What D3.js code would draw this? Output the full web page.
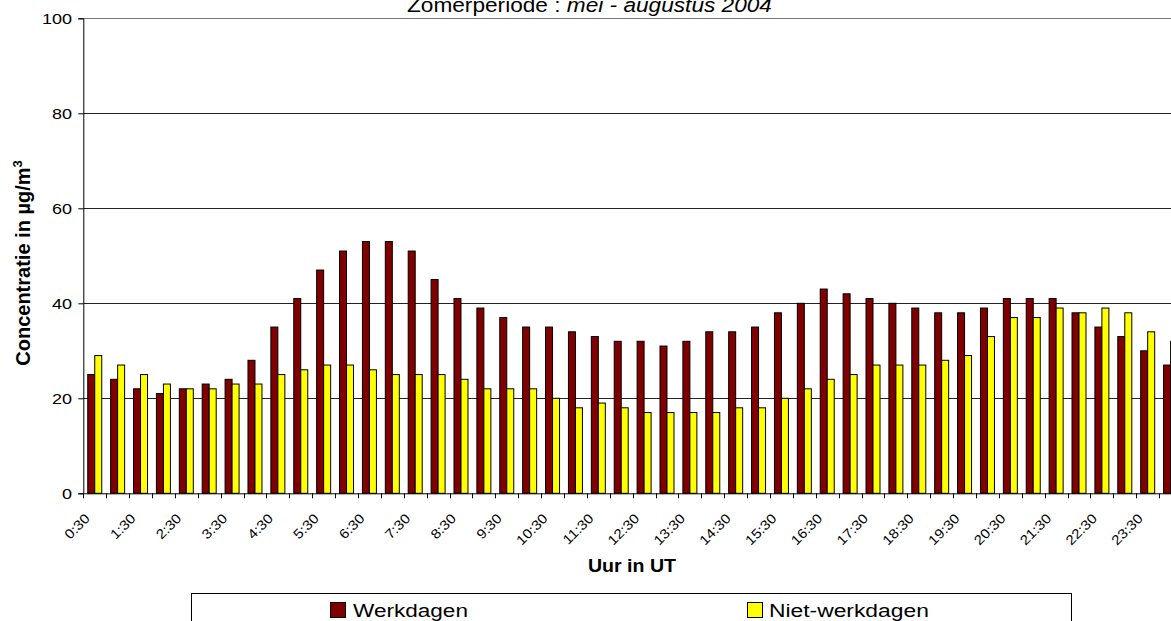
<!DOCTYPE html>
<html><head><meta charset="utf-8">
<script src="https://cdn.jsdelivr.net/npm/d3@7"></script>
<style>
body{margin:0;background:#fff;overflow:hidden}
svg{display:block;font-family:"Liberation Sans",Arial,sans-serif}
</style>
</head><body>
<svg id="c" width="1171" height="621"></svg>
<script>
const categories = ["0:30","1:00","1:30","2:00","2:30","3:00","3:30","4:00","4:30","5:00","5:30","6:00",
  "6:30","7:00","7:30","8:00","8:30","9:00","9:30","10:00","10:30","11:00","11:30","12:00",
  "12:30","13:00","13:30","14:00","14:30","15:00","15:30","16:00","16:30","17:00","17:30","18:00",
  "18:30","19:00","19:30","20:00","20:30","21:00","21:30","22:00","22:30","23:00","23:30","24:00"];
const tickLabels = ["0:30","1:30","2:30","3:30","4:30","5:30","6:30","7:30","8:30","9:30","10:30","11:30",
  "12:30","13:30","14:30","15:30","16:30","17:30","18:30","19:30","20:30","21:30","22:30","23:30"];
const werkdagen = [25,24,22,21,22,23,24,28,35,41,47,51,53,53,51,45,41,39,37,35,35,34,33,32,
  32,31,32,34,34,35,38,40,43,42,41,40,39,38,38,39,41,41,41,38,35,33,30,27];
const nietWerkdagen = [29,27,25,23,22,22,23,23,25,26,27,27,26,25,25,25,24,22,22,22,20,18,19,18,
  17,17,17,17,18,18,20,22,24,25,27,27,27,28,29,33,37,37,39,38,39,38,34,32];
const seriesNames = ["Werkdagen","Niet-werkdagen"];
const seriesColors = ["#800000","#FFFF00"];
const yTicks = [0,20,40,60,80,100];
const titleMain = "Zomerperiode : ";
const titleItalic = "mei - augustus 2004";
const yTitle = "Concentratie in µg/m";
const xTitle = "Uur in UT";

const svg = d3.select("#c");
svg.append("rect").attr("width",1171).attr("height",621).attr("fill","#fff");

const L = 83.3, R = 83.3 + 48*22.89, T = 18.3, B = 493.3;
const x = d3.scaleBand().domain(categories).range([L,R]).padding(0);
const x1 = d3.scaleBand().domain(seriesNames).range([0,x.bandwidth()]).paddingInner(0).paddingOuter(0.635);
const y = d3.scaleLinear().domain([0,100]).range([B,T]);

// gridlines
svg.append("g").selectAll("line").data(yTicks.filter(t=>t>0)).join("line")
  .attr("x1",L).attr("x2",1171)
  .attr("y1",d=>Math.round(y(d))+0.5).attr("y2",d=>Math.round(y(d))+0.5)
  .attr("stroke",d=>d===100?"#777":"#222").attr("stroke-width",1);

// bars
const series = [werkdagen, nietWerkdagen];
series.forEach((vals,si)=>{
  svg.append("g").selectAll("rect").data(vals).join("rect")
    .attr("x",(d,i)=>x(categories[i])+x1(seriesNames[si]))
    .attr("y",d=>y(d))
    .attr("width",x1.bandwidth())
    .attr("height",d=>B-y(d))
    .attr("fill",seriesColors[si])
    .attr("stroke","#000").attr("stroke-width",1);
});

// y axis
const ya = svg.append("g").attr("transform",`translate(${L},0)`)
  .call(d3.axisLeft(y).tickValues(yTicks).tickSize(5).tickFormat(""));
ya.select(".domain").attr("stroke","#000");
ya.selectAll(".tick line").attr("stroke","#000");
svg.append("g").selectAll("text").data(yTicks).join("text")
  .attr("transform",d=>`translate(72,${y(d)+5.5}) scale(1.2,1)`)
  .attr("text-anchor","end").attr("font-size",15).attr("fill","#000")
  .text(d=>d);

// x axis
const xa = svg.append("g").attr("transform",`translate(0,${B})`)
  .call(d3.axisBottom(x).tickSize(0).tickFormat(""));
xa.select(".domain").attr("stroke","#000");
const bounds = categories.map(c=>x(c)).concat([R]);
svg.append("g").selectAll("line").data(bounds).join("line")
  .attr("x1",d=>Math.round(d)+0.5).attr("x2",d=>Math.round(d)+0.5)
  .attr("y1",B).attr("y2",B+5).attr("stroke","#000");
svg.append("g").selectAll("text").data(tickLabels).join("text")
  .attr("transform",d=>`translate(${x(d)+x.bandwidth()/2-4},${B+26}) rotate(-45) scale(1.12,1)`)
  .attr("text-anchor","end").attr("font-size",13.5).attr("fill","#000")
  .text(d=>d);

function fitText(sel, targetW, tx, ty){
  const w = sel.node().getComputedTextLength();
  sel.attr("transform",`translate(${tx},${ty}) scale(${targetW/w},1)`);
}

// title
const title = svg.append("text").attr("font-size",20).attr("fill","#000");
title.append("tspan").text(titleMain);
title.append("tspan").attr("font-style","italic").text(titleItalic);
fitText(title, 365, 407, 12);

// y title
const yt = svg.append("text")
  .attr("transform","translate(30,263) rotate(-90)")
  .attr("text-anchor","middle").attr("font-size",20).attr("font-weight","bold").attr("fill","#000");
yt.append("tspan").text(yTitle);
yt.append("tspan").attr("font-size",13).attr("dy",-8).text("3");

// x title
const xt = svg.append("text").attr("font-size",18).attr("font-weight","bold").attr("fill","#000").text(xTitle);
fitText(xt, 88, 588, 572);

// legend
svg.append("rect").attr("x",191.5).attr("y",593.5).attr("width",880).attr("height",60)
  .attr("fill","#fff").attr("stroke","#000");
const legItems = [
  {sq:330, tx:353, w:115},
  {sq:747, tx:769, w:160}
];
seriesNames.forEach((n,i)=>{
  const it = legItems[i];
  svg.append("rect").attr("x",it.sq+0.5).attr("y",602.5).attr("width",15).attr("height",15)
    .attr("fill",seriesColors[i]).attr("stroke","#000");
  const t = svg.append("text").attr("font-size",18.5).attr("fill","#000").text(n);
  fitText(t, it.w, it.tx, 616.5);
});
</script>
</body></html>
